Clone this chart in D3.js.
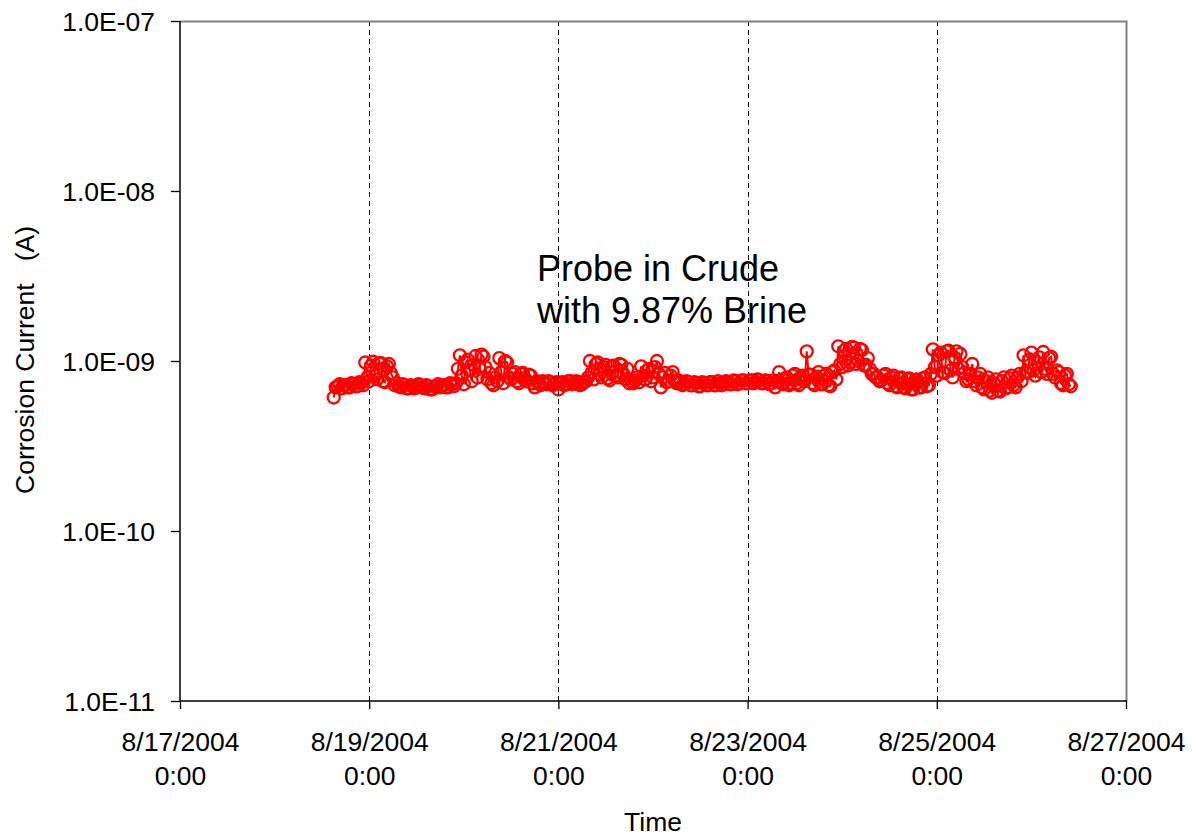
<!DOCTYPE html>
<html><head><meta charset="utf-8">
<script src="https://cdn.jsdelivr.net/npm/d3@7"></script>
<style>
body{margin:0;background:#fff}
svg text{font-family:"Liberation Sans",Arial,Helvetica,sans-serif;fill:#000}
</style>
</head><body>
<svg id="chart" width="1196" height="837"></svg>
<script>
// ---- data ----
const sampleStart = "2004-08-18 15:00";   // first reading
const sampleStepMinutes = 30;              // one reading every 30 minutes
// corrosion current, in units of 1e-9 A (pairs: hh:00, hh:30)
const currentNanoAmps = [
  0.61,0.70, 0.71,0.73, 0.69,0.72, 0.72,0.70, 0.70,0.74, 0.73,0.71, 0.71,0.75, 0.74,0.72, 0.98,0.80, 0.76,0.94,
  0.99,0.82, 0.78,0.97, 0.97,0.76, 0.75,0.93, 0.96,0.85, 0.80,0.72, 0.74,0.71, 0.70,0.73, 0.72,0.69, 0.69,0.72,
  0.71,0.69, 0.70,0.73, 0.72,0.70, 0.69,0.72, 0.71,0.68, 0.68,0.71, 0.71,0.73, 0.70,0.72, 0.72,0.70, 0.70,0.74,
  0.73,0.71, 0.74,0.90, 1.08,0.82, 0.73,0.98, 1.02,0.88, 0.76,0.95, 1.07,0.80, 0.90,1.09, 1.06,0.92, 0.78,0.85,
  0.74,0.72, 0.80,0.76, 1.04,0.86, 0.74,1.00, 0.98,0.80, 0.78,0.84, 0.86,0.76, 0.74,0.84, 0.85,0.78, 0.76,0.83,
  0.82,0.74, 0.70,0.76, 0.74,0.72, 0.76,0.74, 0.73,0.76, 0.75,0.72, 0.73,0.75, 0.68,0.74, 0.75,0.72, 0.73,0.76,
  0.76,0.73, 0.74,0.76, 0.75,0.72, 0.73,0.75, 0.76,0.80, 1.00,0.86, 0.78,0.96, 0.98,0.84, 0.80,0.92, 0.95,0.79,
  0.77,0.93, 0.94,0.82, 0.80,0.96, 0.95,0.84, 0.78,0.90, 0.74,0.76, 0.74,0.77, 0.80,0.75, 0.93,0.82, 0.78,0.88,
  0.90,0.76, 0.80,0.92, 1.00,0.84, 0.70,0.80, 0.85,0.75, 0.76,0.82, 0.86,0.76, 0.74,0.77, 0.75,0.72, 0.73,0.76,
  0.75,0.72, 0.72,0.75, 0.74,0.71, 0.71,0.75, 0.74,0.72, 0.72,0.75, 0.75,0.72, 0.72,0.76, 0.74,0.72, 0.73,0.76,
  0.75,0.73, 0.73,0.77, 0.76,0.73, 0.74,0.77, 0.77,0.74, 0.74,0.77, 0.77,0.74, 0.75,0.78, 0.77,0.74, 0.74,0.77,
  0.76,0.73, 0.74,0.77, 0.70,0.76, 0.86,0.74, 0.73,0.79, 0.80,0.72, 0.74,0.82, 0.84,0.74, 0.72,0.80, 0.82,0.76,
  1.14,0.83, 0.83,0.74, 0.72,0.81, 0.86,0.73, 0.73,0.82, 0.84,0.72, 0.71,0.86, 0.88,0.78, 1.22,0.96, 0.92,1.15,
  1.18,0.94, 0.98,1.21, 1.20,0.96, 1.00,1.18, 1.16,0.94, 0.95,1.04, 0.90,0.84, 0.84,0.80, 0.80,0.76, 0.77,0.82,
  0.84,0.74, 0.72,0.80, 0.82,0.71, 0.70,0.79, 0.80,0.70, 0.69,0.78, 0.79,0.68, 0.68,0.77, 0.78,0.70, 0.70,0.79,
  0.80,0.71, 0.72,0.84, 1.17,0.92, 0.82,1.08, 1.12,0.86, 0.85,1.14, 1.15,0.88, 0.80,1.05, 1.14,0.90, 1.10,0.92,
  0.85,0.76, 0.78,0.84, 0.96,0.76, 0.72,0.80, 0.84,0.70, 0.68,0.76, 0.80,0.67, 0.65,0.74, 0.78,0.67, 0.66,0.76,
  0.80,0.69, 0.70,0.79, 0.82,0.72, 0.70,0.80, 0.84,0.76, 1.08,0.86, 0.85,1.02, 1.12,0.88, 0.82,0.98, 1.05,0.86,
  1.13,0.90, 0.84,1.04, 1.06,0.84, 0.80,0.88, 0.86,0.74, 0.72,0.82, 0.84,0.73, 0.71
];
const xDomain = ["2004-08-17 00:00", "2004-08-27 00:00"];
const xTickDates = ["2004-08-17 00:00","2004-08-19 00:00","2004-08-21 00:00","2004-08-23 00:00","2004-08-25 00:00","2004-08-27 00:00"];
const xTickLabels = [["8/17/2004","0:00"],["8/19/2004","0:00"],["8/21/2004","0:00"],["8/23/2004","0:00"],["8/25/2004","0:00"],["8/27/2004","0:00"]];
const yDomain = [1e-11, 1e-7];
const yTickValues = [1e-11, 1e-10, 1e-9, 1e-8, 1e-7];
const yTickLabels = ["1.0E-11","1.0E-10","1.0E-09","1.0E-08","1.0E-07"];
const xTitle = "Time";
const yTitle = "Corrosion Current   (A)";
const annotationLines = ["Probe in Crude", "with 9.87% Brine"];

// ---- chart ----
const parse = d3.timeParse("%Y-%m-%d %H:%M");
const t0 = parse(sampleStart);
const data = currentNanoAmps.map((v, i) => ({
  t: d3.timeMinute.offset(t0, i * sampleStepMinutes),
  v: v * 1e-9
}));

const L = 180, R = 1126, T = 21, B = 701;
const svg = d3.select("#chart");
const x = d3.scaleTime().domain(xDomain.map(parse)).range([L, R]);
const y = d3.scaleLog().domain(yDomain).range([B, T]);
const tickDates = xTickDates.map(parse);

// dashed gridlines
svg.append("g").selectAll("line")
  .data(tickDates.slice(1, -1))
  .join("line")
  .attr("x1", d => Math.round(x(d)) + 0.5).attr("x2", d => Math.round(x(d)) + 0.5)
  .attr("y1", T).attr("y2", B)
  .attr("stroke", "#000").attr("stroke-width", 1).attr("stroke-dasharray", "5,4");

// frame: top/right grey
svg.append("path")
  .attr("d", `M${L},${T + 0.5}H${R + 0.5}V${B}`)
  .attr("fill", "none").attr("stroke", "#808080").attr("stroke-width", 2);

// y axis
const yAxis = svg.append("g").attr("transform", `translate(${L},0)`)
  .call(d3.axisLeft(y).tickValues(yTickValues)
    .tickFormat((d, i) => yTickLabels[i]).tickSize(9).tickPadding(16));
yAxis.select(".domain").remove();
yAxis.selectAll(".tick line").attr("stroke", "#000").attr("stroke-width", 1.3);
yAxis.selectAll(".tick text").attr("font-size", "26.5px")
  .attr("font-family", "'Liberation Sans',Arial,sans-serif").attr("fill", "#000").attr("dy", "0.34em");

// x axis
const xAxis = svg.append("g").attr("transform", `translate(0,${B})`)
  .call(d3.axisBottom(x).tickValues(tickDates).tickFormat("").tickSize(8));
xAxis.select(".domain").remove();
xAxis.selectAll(".tick line").attr("stroke", "#000").attr("stroke-width", 1.3);
xAxis.selectAll(".tick text").remove();
xAxis.selectAll(".tick").each(function (d, i) {
  const txt = d3.select(this).append("text")
    .attr("text-anchor", "middle").attr("font-size", "26.5px").attr("fill", "#000");
  xTickLabels[i].forEach((s, k) => {
    txt.append("tspan").attr("x", 0).attr("y", 50 + k * 34.3).text(s);
  });
});

// axis lines (black)
svg.append("line").attr("x1", L).attr("x2", L).attr("y1", T).attr("y2", B + 0.5)
  .attr("stroke", "#000").attr("stroke-width", 1.5);
svg.append("line").attr("x1", L).attr("x2", R + 1).attr("y1", B).attr("y2", B)
  .attr("stroke", "#000").attr("stroke-width", 1.5);

// series line + markers
const line = d3.line().x(d => x(d.t)).y(d => y(d.v));
svg.append("path").datum(data).attr("d", line)
  .attr("fill", "none").attr("stroke", "#ff0000").attr("stroke-width", 2);
svg.append("g").selectAll("circle").data(data).join("circle")
  .attr("cx", d => x(d.t)).attr("cy", d => y(d.v)).attr("r", 6)
  .attr("fill", "none").attr("stroke", "#ff0000").attr("stroke-width", 2.3);

// annotation
const ann = svg.append("text").attr("font-size", "36px").attr("fill", "#000");
annotationLines.forEach((s, k) => {
  ann.append("tspan").attr("x", 537).attr("y", 281 + k * 42).text(s);
});

// titles
svg.append("text").attr("x", (L + R) / 2).attr("y", 831)
  .attr("text-anchor", "middle").attr("font-size", "26.5px").text(xTitle);
svg.append("text")
  .attr("transform", `translate(34,360) rotate(-90)`)
  .attr("text-anchor", "middle").attr("font-size", "26.5px")
  .style("white-space", "pre").text(yTitle);
</script>
</body></html>
